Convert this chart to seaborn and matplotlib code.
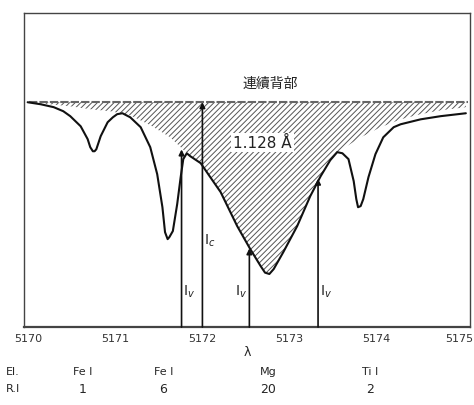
import numpy as np
import pandas as pd
import matplotlib
matplotlib.use('Agg')
import matplotlib.pyplot as plt
import matplotlib.transforms as mtransforms
import seaborn as sns

# Mg b line profile (lower edge of the hatched area), continuum = 1
mg_wl = [5170.00, 5170.25, 5170.48, 5170.71, 5170.94, 5171.17, 5171.40, 5171.63,
         5171.75, 5171.86, 5171.98, 5172.09, 5172.21, 5172.40, 5172.55, 5172.67,
         5172.72, 5172.77, 5172.82, 5172.93, 5173.09, 5173.24, 5173.36, 5173.47,
         5173.59, 5173.82, 5174.05, 5174.28, 5174.51, 5174.74, 5175.03]
mg_int = [1.000, 0.991, 0.982, 0.969, 0.960, 0.942, 0.898, 0.844,
          0.800, 0.760, 0.729, 0.667, 0.600, 0.449, 0.347, 0.271,
          0.242, 0.236, 0.258, 0.333, 0.449, 0.582, 0.671, 0.742,
          0.787, 0.844, 0.889, 0.924, 0.947, 0.964, 0.978]

# observed spectrum
obs_wl = [5169.99, 5170.14, 5170.29, 5170.40, 5170.48, 5170.60, 5170.68, 5170.71,
          5170.74, 5170.76, 5170.78, 5170.83, 5170.91, 5170.97, 5171.02, 5171.08,
          5171.17, 5171.29, 5171.40, 5171.48, 5171.54, 5171.57, 5171.60, 5171.62,
          5171.66, 5171.71, 5171.75, 5171.78, 5171.82, 5171.86, 5171.98, 5172.09,
          5172.21, 5172.40, 5172.55, 5172.67, 5172.72, 5172.77, 5172.82, 5172.93,
          5173.09, 5173.24, 5173.36, 5173.47, 5173.55, 5173.61, 5173.68, 5173.74,
          5173.77, 5173.79, 5173.82, 5173.85, 5173.91, 5173.99, 5174.08, 5174.20,
          5174.28, 5174.51, 5174.74, 5175.03]
obs_int = [1.000, 0.991, 0.978, 0.960, 0.938, 0.893, 0.836, 0.800,
           0.782, 0.782, 0.791, 0.849, 0.911, 0.933, 0.947, 0.951,
           0.933, 0.889, 0.800, 0.680, 0.533, 0.422, 0.391, 0.400,
           0.427, 0.547, 0.667, 0.747, 0.773, 0.760, 0.729, 0.667,
           0.600, 0.449, 0.347, 0.271, 0.242, 0.236, 0.258, 0.333,
           0.449, 0.582, 0.671, 0.742, 0.778, 0.773, 0.747, 0.649,
           0.569, 0.533, 0.538, 0.569, 0.667, 0.769, 0.844, 0.889,
           0.902, 0.924, 0.938, 0.951]

continuum = 1.0

# marked intensities: wavelength, top of the arrow, label
marks_wl = [5171.76, 5172.00, 5172.54, 5173.33]
marks_top = [0.79, 1.0, 0.35, 0.66]
marks_lab = ['$\\mathrm{I}_v$', '$\\mathrm{I}_c$', '$\\mathrm{I}_v$', '$\\mathrm{I}_v$']
marks_lab_x = [5171.85, 5172.08, 5172.44, 5173.42]
marks_lab_y = [0.16, 0.39, 0.16, 0.16]

# element table under the axis
elements = ['Fe I', 'Fe I', 'Mg', 'Ti I']
rel_int = ['1', '6', '20', '2']
elem_wl = [5170.62, 5171.55, 5172.76, 5173.93]

eq_width = '1.128 Å'
ticks = [5170, 5171, 5172, 5173, 5174, 5175]

sns.set_style('white')
plt.rcParams['font.family'] = ['DejaVu Sans', 'Noto Sans CJK JP']
plt.rcParams['hatch.linewidth'] = 0.7
plt.rcParams['hatch.color'] = '#555555'

fig = plt.figure(figsize=(4.74, 4.06), dpi=100)
ax = fig.add_axes([0.051, 0.192, 0.941, 0.773])

mg_df = pd.DataFrame({'wl': mg_wl, 'I': mg_int})
obs_df = pd.DataFrame({'wl': obs_wl, 'I': obs_int})

ax.fill_between(mg_df['wl'], mg_df['I'], continuum, facecolor='none',
                edgecolor='#555555', hatch='//////', linewidth=0)
ax.plot([5170, 5175.05], [continuum, continuum], color='#666666', lw=1.5, ls=(0, (4, 1)))
sns.lineplot(data=obs_df, x='wl', y='I', estimator=None, sort=False,
             color='#111111', lw=1.5, ax=ax)

for wl, top in zip(marks_wl, marks_top):
    ax.annotate('', xy=(wl, top), xytext=(wl, 0),
                arrowprops=dict(arrowstyle='-|>', color='#111111', lw=1.2,
                                mutation_scale=8, shrinkA=0, shrinkB=0))
for lab, x, y in zip(marks_lab, marks_lab_x, marks_lab_y):
    ax.text(x, y, lab, fontsize=10, ha='center', va='center', color='#222222')

ax.text(5172.78, 1.085, '連續背部', family=['Noto Sans CJK JP', 'DejaVu Sans'],
        fontsize=10, ha='center', va='center', color='#222222')
ax.text(5172.69, 0.82, eq_width, fontsize=11, ha='center', va='center', color='#222222',
        bbox=dict(facecolor='white', edgecolor='none', pad=1.5))

ax.set_xlim(5169.95, 5175.08)
ax.set_ylim(0, 1.396)
ax.set_xticks(ticks)
ax.set_xticklabels([str(t) for t in ticks])
ax.set_yticks([])
ax.tick_params(axis='x', direction='in', length=3, labelsize=8, pad=4, colors='#333333')
last = ax.get_xticklabels()[-1]
last.set_ha('right')
last.set_transform(last.get_transform() + mtransforms.ScaledTranslation(10 / 100, 0, fig.dpi_scale_trans))
ax.set_xlabel('λ', fontsize=9, labelpad=2)
ax.set_ylabel('')
for s in ax.spines.values():
    s.set_color('#444444')
    s.set_linewidth(1.0)
ax.spines['bottom'].set_linewidth(1.6)

trans = ax.get_xaxis_transform()
ax.text(5169.82, -0.14, 'El.', transform=trans, fontsize=8, ha='center', va='center', clip_on=False)
ax.text(5169.82, -0.195, 'R.I', transform=trans, fontsize=8, ha='center', va='center', clip_on=False)
for wl, el, ri in zip(elem_wl, elements, rel_int):
    ax.text(wl, -0.14, el, transform=trans, fontsize=8, ha='center', va='center')
    ax.text(wl, -0.195, ri, transform=trans, fontsize=9, ha='center', va='center')

fig.savefig('out.png', dpi=100)
